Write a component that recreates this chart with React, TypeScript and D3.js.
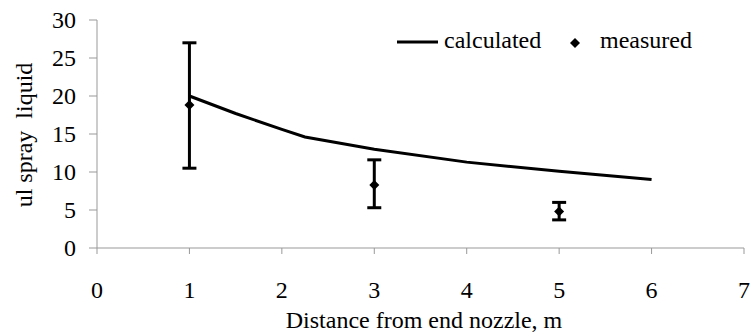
import React from "react";
import * as d3 from "d3";

const calcX = [1, 1.5, 2, 2.25, 3, 4, 5, 6];
const calcY = [20, 17.7, 15.6, 14.6, 13.0, 11.3, 10.1, 9.0];
const measX = [1, 3, 5];
const measY = [18.8, 8.3, 4.8];
const measHi = [27.0, 11.6, 6.0];
const measLo = [10.5, 5.3, 3.7];
const xTicks = [0, 1, 2, 3, 4, 5, 6, 7];
const yTicks = [0, 5, 10, 15, 20, 25, 30];

const W = 755, H = 332;
const FONT = "'Liberation Serif', 'Times New Roman', serif";

export default function App() {
  const x = d3.scaleLinear().domain([0, 7]).range([97, 744]);
  const y = d3.scaleLinear().domain([0, 30]).range([248, 20]);
  const line = d3.line<number>().x((_, i) => x(calcX[i])).y((d) => y(d));
  const diamond = d3.symbol().type(d3.symbolSquare).size(50)();
  const T = (px: number, py: number, txt: string, anchor: string, rot = 0) => (
    <text
      transform={`translate(${px},${py}) rotate(${rot})`}
      textAnchor={anchor}
      style={{ fontFamily: FONT, fontSize: 24, whiteSpace: "pre" }}
      fill="#000"
    >
      {txt}
    </text>
  );
  return (
    <svg width={W} height={H} style={{ position: "absolute", left: 0, top: 0, background: "#fff" }}>
      <line x1={x(0)} x2={x(0)} y1={y(30)} y2={y(0)} stroke="#999" strokeWidth={1} />
      <line x1={x(0)} x2={x(7)} y1={y(0)} y2={y(0)} stroke="#999" strokeWidth={1} />
      {yTicks.map((t) => (
        <g key={"y" + t}>
          <line x1={x(0) - 8} x2={x(0)} y1={y(t)} y2={y(t)} stroke="#999" />
          {T(76, y(t) + 8, String(t), "end")}
        </g>
      ))}
      {xTicks.map((t) => (
        <g key={"x" + t}>
          <line x1={x(t)} x2={x(t)} y1={y(0)} y2={y(0) + 6} stroke="#999" />
          {T(x(t), 298, String(t), "middle")}
        </g>
      ))}
      {T(32, 135, "ul spray  liquid", "middle", -90)}
      {T(424, 328, "Distance from end nozzle, m", "middle")}
      <path d={line(calcY) || ""} fill="none" stroke="#000" strokeWidth={3} />
      {measX.map((mx, i) => (
        <g key={"m" + i} stroke="#000" strokeWidth={3}>
          <line x1={x(mx)} x2={x(mx)} y1={y(measHi[i])} y2={y(measLo[i])} />
          <line x1={x(mx) - 7} x2={x(mx) + 7} y1={y(measHi[i])} y2={y(measHi[i])} />
          <line x1={x(mx) - 7} x2={x(mx) + 7} y1={y(measLo[i])} y2={y(measLo[i])} />
          <path d={diamond || ""} transform={`translate(${x(mx)},${y(measY[i])}) rotate(45)`} fill="#000" stroke="none" />
        </g>
      ))}
      <line x1={397} x2={438} y1={42} y2={42} stroke="#000" strokeWidth={3} />
      {T(444, 48, "calculated", "start")}
      <path d={diamond || ""} transform="translate(575,43) rotate(45)" fill="#000" />
      {T(600, 48, "measured", "start")}
    </svg>
  );
}
